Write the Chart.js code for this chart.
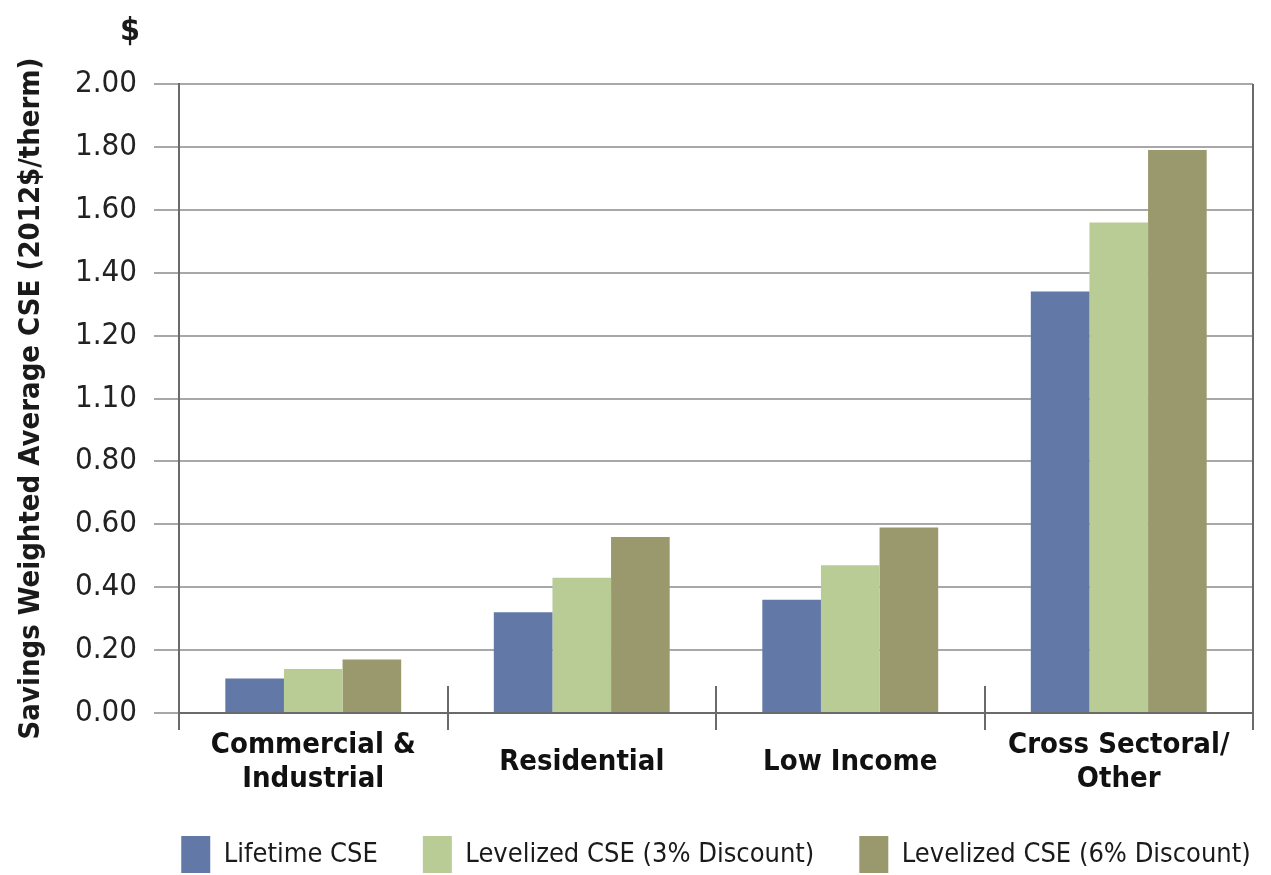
<!DOCTYPE html>
<html>
<head>
<meta charset="utf-8">
<script src="https://cdn.jsdelivr.net/npm/chart.js@4.4.1/dist/chart.umd.min.js"></script>
<style>
  html, body { margin: 0; padding: 0; background: #fff; }
</style>
</head>
<body>
<canvas id="myChart" width="1271" height="875"></canvas>
<script>
/////////////////////////////
// Data
/////////////////////////////

const categories = [['Commercial &', 'Industrial'], 'Residential', 'Low Income', ['Cross Sectoral/', 'Other']];
const lifetimeCSE = [0.11, 0.32, 0.36, 1.34];
const levelized3 = [0.14, 0.43, 0.47, 1.56];
const levelized6 = [0.17, 0.56, 0.59, 1.79];
// tick labels as printed on the original (note the "1.10")
const yTickLabels = ['0.00', '0.20', '0.40', '0.60', '0.80', '1.10', '1.20', '1.40', '1.60', '1.80', '2.00'];

const FONT = "'DejaVu Sans Condensed', 'Liberation Sans Narrow', sans-serif";

/////////////////////////////
// Plugins
/////////////////////////////

// Separator stubs, right frame line and the "$" over the axis
const axisMarks = {
  id: 'axisMarks',
  afterLayout(chart) {
    // legend is centred under the plot area, not the whole canvas
    // (widened equally on both sides so the row does not wrap)
    const a = chart.chartArea;
    chart.legend.left = a.left - 80;
    chart.legend.right = a.right + 80;
  },
  afterDatasetsDraw(chart) {
    const { ctx, chartArea: a, scales: { x } } = chart;
    ctx.save();
    ctx.strokeStyle = '#6a6a6a';
    ctx.lineWidth = 2;
    ctx.beginPath();
    for (let i = 0; i <= categories.length; i++) {
      const px = Math.round(x.getPixelForValue(i - 0.5));
      const inner = i > 0 && i < categories.length;
      ctx.moveTo(px, inner ? a.bottom - 27 : a.top);
      ctx.lineTo(px, a.bottom + 17);
    }
    ctx.stroke();

    ctx.fillStyle = '#1a1a1a';
    ctx.font = 'bold 32px ' + FONT;
    ctx.textAlign = 'center';
    ctx.textBaseline = 'middle';
    ctx.fillText('$', a.left - 49, a.top - 52);
    ctx.restore();
  }
};

/////////////////////////////
// Chart
/////////////////////////////

const ctx = document.getElementById('myChart').getContext('2d');
const myChart = new Chart(ctx, {
  type: 'bar',
  data: {
    labels: categories,
    datasets: [
      { label: 'Lifetime CSE', data: lifetimeCSE, backgroundColor: '#6279a7' },
      { label: 'Levelized CSE (3% Discount)', data: levelized3, backgroundColor: '#b9cc96' },
      { label: 'Levelized CSE (6% Discount)', data: levelized6, backgroundColor: '#9a996e' }
    ]
  },
  options: {
    responsive: false,
    animation: false,
    devicePixelRatio: 1,
    layout: { padding: { top: 84, right: 18, left: 0, bottom: 0 } },
    datasets: { bar: { barPercentage: 1, categoryPercentage: 0.655, borderWidth: 0 } },
    plugins: {
      legend: {
        position: 'bottom',
        align: 'center',
        maxHeight: 84,
        labels: {
          boxWidth: 29,
          boxHeight: 37,
          padding: 45,
          color: '#1a1a1a',
          font: { family: FONT, size: 27 }
        }
      },
      tooltip: { enabled: false }
    },
    scales: {
      x: {
        afterFit: s => { s.height = 78; },
        grid: { display: false, drawTicks: false, tickLength: 0 },
        border: { color: '#6a6a6a', width: 2 },
        ticks: {
          padding: 32,
          autoSkip: false,
          maxRotation: 0,
          minRotation: 0,
          crossAlign: 'center',
          color: '#111',
          font: { family: FONT, size: 29, weight: 'bold', lineHeight: 1.2 }
        }
      },
      y: {
        min: 0,
        max: 2,
        afterFit: s => { s.width = 179; },
        grid: { color: '#a8a8a8', lineWidth: 2, tickLength: 25 },
        border: { color: '#6a6a6a', width: 2 },
        ticks: {
          stepSize: 0.2,
          padding: 17,
          color: '#222',
          font: { family: FONT, size: 31 },
          callback: (value, index) => yTickLabels[index]
        },
        title: {
          display: true,
          text: 'Savings Weighted Average CSE (2012$/therm)',
          color: '#1a1a1a',
          padding: { top: 14, bottom: 0 },
          font: { family: FONT, size: 29, weight: 'bold' }
        }
      }
    }
  },
  plugins: [axisMarks]
});
</script>
</body>
</html>
